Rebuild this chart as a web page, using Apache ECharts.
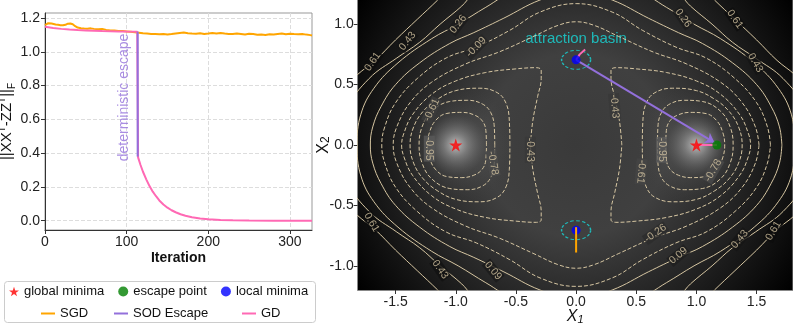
<!DOCTYPE html>
<html>
<head>
<meta charset="utf-8">
<script src="https://cdn.jsdelivr.net/npm/echarts@6/dist/echarts.min.js"></script>
<style>
  html, body { margin: 0; padding: 0; background: #fff; }
  #main { width: 793px; height: 324px; }
</style>
</head>
<body>
<div id="main"></div>
<script>
// ---- left panel: distance to ground truth per iteration ----
const sgd = [[0,1.158],[2,1.162],[4,1.170],[6,1.174],[8,1.168],[10,1.166],[13,1.162],[16,1.160],[19,1.158],[22,1.157],[25,1.160],[28,1.167],[31,1.168],[34,1.163],[37,1.152],[40,1.144],[44,1.140],[48,1.138],[52,1.137],[56,1.139],[60,1.136],[65,1.134],[70,1.135],[75,1.130],[80,1.127],[85,1.126],[90,1.124],[95,1.123],[100,1.121],[105,1.119],[110,1.116],[115,1.113],[120,1.110],[125,1.108],[130,1.106],[135,1.105],[140,1.104],[145,1.106],[150,1.103],[155,1.105],[160,1.109],[165,1.112],[170,1.114],[175,1.110],[180,1.108],[185,1.107],[190,1.110],[195,1.106],[200,1.108],[205,1.111],[210,1.109],[215,1.112],[220,1.108],[225,1.106],[230,1.105],[235,1.108],[240,1.106],[245,1.103],[250,1.107],[255,1.105],[260,1.101],[265,1.102],[270,1.100],[275,1.104],[280,1.103],[285,1.106],[290,1.108],[295,1.104],[300,1.107],[305,1.105],[310,1.104],[315,1.106],[320,1.102],[325,1.099],[327,1.097]];
const gd = [[0,1.148],[10,1.141],[20,1.136],[30,1.132],[40,1.129],[50,1.127],[60,1.125],[70,1.123],[80,1.122],[90,1.121],[100,1.120],[113,1.119],[114,0.375],[117,0.33],[120,0.29],[124,0.245],[128,0.205],[132,0.172],[136,0.145],[140,0.120],[145,0.096],[150,0.077],[155,0.062],[160,0.050],[166,0.038],[172,0.029],[180,0.020],[190,0.013],[200,0.008],[215,0.004],[230,0.002],[250,0.001],[280,0.0005],[327,0.0002]];
const sodEscape = [[113.5,1.119],[113.5,0.38]];
const leftXTicks = [0, 100, 200, 300];
const leftYTicks = [0, 0.2, 0.4, 0.6, 0.8, 1.0, 1.2];

// ---- right panel: landscape and trajectories ----
const rightXTicks = [-1.5, -1, -0.5, 0, 0.5, 1, 1.5];
const rightYTicks = [-1, -0.5, 0, 0.5, 1];
const globalMinima = [[-1, 0], [1, 0]];
const escapePoint = [[1.17, 0]];
const localMinima = [[0, 0.705], [0, -0.705]];
const sodPath = [[0, 0.705], [1.15, 0.02]];
const gdPathTop = [[0, 0.705], [0.03, 0.75], [0.075, 0.79]];
const gdPathRight = [[1.0, 0], [1.17, 0]];
const sgdPathBottom = [[0, -0.68], [0, -0.89]];

// traced contours: right-lobe upper halves (inner crossing -> outer crossing)
const lobeM095 = [[0.745,0],[0.75,0.12],[0.78,0.2],[0.85,0.25],[0.95,0.27],[1.08,0.26],[1.17,0.2],[1.22,0.1],[1.235,0]];
const lobeM078 = [[0.676,0],[0.68,0.15],[0.71,0.27],[0.78,0.34],[0.9,0.37],[1.05,0.36],[1.2,0.28],[1.28,0.15],[1.305,0]];
const lobeM061 = [[0.55,0],[0.555,0.2],[0.58,0.34],[0.65,0.43],[0.8,0.47],[1.0,0.45],[1.15,0.38],[1.27,0.28],[1.35,0.15],[1.38,0]];
const lobeM043 = [[0.38,0],[0.36,0.2],[0.32,0.4],[0.29,0.55],[0.29,0.62],[0.33,0.64],[0.5,0.63],[0.75,0.6],[1.0,0.53],[1.2,0.42],[1.36,0.25],[1.43,0.1],[1.45,0]];
// traced contours: first quadrant (x axis crossing -> y axis side)
const ringM026 = [[1.52,0],[1.49,0.15],[1.38,0.35],[1.2,0.52],[0.92,0.67],[0.64,0.77],[0.35,0.9],[0.15,0.99],[0,1.02]];
const ringM009 = [[1.615,0],[1.59,0.15],[1.5,0.35],[1.32,0.55],[1.08,0.72],[0.83,0.81],[0.55,0.95],[0.3,1.1],[0,1.17]];
const ringP009 = [[1.71,0],[1.69,0.15],[1.62,0.32],[1.5,0.5],[1.3,0.68],[1.05,0.84],[0.85,0.93],[0.6,1.05],[0.3,1.2],[0,1.28]];
const ringP026 = [[1.82,0],[1.79,0.25],[1.68,0.47],[1.48,0.68],[1.2,0.88],[0.98,1.0],[0.75,1.14],[0.5,1.28],[0,1.4]];
const ringP043 = [[1.95,0],[1.9,0.3],[1.72,0.55],[1.49,0.72],[1.3,0.85],[1.13,1.0],[0.95,1.15],[0.8,1.3],[0,1.6]];
const ringP061 = [[2.1,0],[2.0,0.4],[1.82,0.58],[1.67,0.7],[1.5,0.87],[1.32,1.04],[1.15,1.2],[1.0,1.35],[0,1.8]];

// contour labels: [x, y, text, rotation]
const contourLabels = [
  [-1.69, 0.69, '0.61', 55], [-1.40, 0.86, '0.43', 52], [-0.98, 1.0, '0.26', 52], [-0.83, 0.81, '-0.09', 45],
  [-1.2, 0.29, '-0.61', 65], [-1.22, -0.03, '-0.95', -90], [-0.69, -0.15, '-0.78', -80], [-0.38, -0.04, '-0.43', -90],
  [0.32, 0.32, '-0.43', -85], [0.71, -0.04, '-0.95', -90], [0.54, -0.22, '-0.61', -95], [1.14, -0.21, '-0.78', 60],
  [0.89, 1.05, '0.26', -55], [1.32, 1.04, '0.61', -55], [1.49, 0.68, '0.43', -60],
  [0.66, -0.73, '-0.26', 35], [0.85, -0.915, '0.09', 40], [1.36, -0.78, '0.43', 50], [1.64, -0.71, '0.61', 60],
  [-1.70, -0.64, '0.61', -60], [-1.13, -1.03, '0.43', -55], [-0.69, -1.04, '0.09', -50]
];
// local backdrop shade behind each label (hides the line under the text)
const labelShade = ['#0e0e0e', '#141414', '#1c1c1c', '#242424', '#3c3c3c', '#5a5a5a', '#4a4a4a', '#383838',
  '#383838', '#5a5a5a', '#454545', '#4a4a4a', '#1c1c1c', '#0e0e0e', '#141414',
  '#2c2c2c', '#1e1e1e', '#151515', '#0c0c0c', '#0e0e0e', '#111111', '#1a1a1a'];

function dedupe(pts) {
  return pts.filter((p, i) => i === 0 || p[0] !== pts[i - 1][0] || p[1] !== pts[i - 1][1]);
}
function lobe(half, side) {
  const full = half.concat(half.slice().reverse().map(p => [p[0], -p[1]]));
  return dedupe(full.map(p => [side * p[0], p[1]]));
}
function ring(q) {
  const q2 = q.slice().reverse().map(p => [-p[0], p[1]]);
  const q3 = q.map(p => [-p[0], -p[1]]);
  const q4 = q.slice().reverse().map(p => [p[0], -p[1]]);
  return dedupe(q.concat(q2, q3, q4));
}

const FONT = 'Liberation Sans';
const contourColor = '#d6c6a2';
const star = 'path://M50,0 L61.8,35.1 L98.1,35.1 L68.8,56.7 L79.4,90.9 L50,69.1 L20.6,90.9 L31.2,56.7 L1.9,35.1 L38.2,35.1 Z';

function contourSeries(pts, dashed) {
  return {
    type: 'line', xAxisIndex: 1, yAxisIndex: 1, data: pts, smooth: 0.4,
    showSymbol: false, symbol: 'none', silent: true, z: 3,
    lineStyle: { color: contourColor, width: 1, type: dashed ? [4, 2] : 'solid' }
  };
}

const contours = [];
[lobeM095, lobeM078, lobeM061, lobeM043].forEach(h => {
  contours.push(contourSeries(lobe(h, 1), true));
  contours.push(contourSeries(lobe(h, -1), true));
});
[ringM026, ringM009].forEach(q => contours.push(contourSeries(ring(q), true)));
[ringP009, ringP026, ringP043, ringP061].forEach(q => contours.push(contourSeries(ring(q), false)));

const legendText = { fontSize: 13, color: '#111', fontFamily: FONT };
function lineLegend(name, left) {
  return { left: left, top: 307, padding: 0, itemWidth: 14, itemHeight: 2, icon: 'rect', textStyle: legendText, data: [name] };
}

const chart = echarts.init(document.getElementById('main'));
chart.setOption({
  animation: false,
  textStyle: { fontFamily: FONT },
  grid: [
    { left: 45, top: 13, width: 267, height: 217, show: true, borderColor: '#999', borderWidth: 1, outerBoundsMode: 'none' },
    { left: 357.7, top: 0, width: 435, height: 290, show: true, borderWidth: 0, outerBoundsMode: 'none',
      backgroundColor: { type: 'radial', x: 0.5, y: 0.5, r: 0.9,
        colorStops: [{ offset: 0, color: '#3a3a3a' }, { offset: 0.35, color: '#404040' }, { offset: 0.62, color: '#262626' }, { offset: 1, color: '#000' }] } }
  ],
  xAxis: [
    { type: 'value', gridIndex: 0, min: 0, max: 327,
      axisLine: { show: true, onZero: false, lineStyle: { color: '#333' } },
      axisTick: { show: true, customValues: leftXTicks, length: 4, lineStyle: { color: '#333' } },
      axisLabel: { customValues: leftXTicks, fontSize: 14, color: '#222', margin: 5 },
      splitLine: { show: true, lineStyle: { color: '#ddd', type: 'dashed' } },
      name: 'Iteration', nameLocation: 'middle', nameGap: 21, nameMoveOverlap: false,
      nameTextStyle: { fontWeight: 'bold', fontSize: 14, color: '#111' } },
    { type: 'value', gridIndex: 1, min: -1.815, max: 1.8,
      axisLine: { show: true, onZero: false, lineStyle: { color: '#888' } },
      axisTick: { show: true, customValues: rightXTicks, length: 4, lineStyle: { color: '#333' } },
      axisLabel: { customValues: rightXTicks, fontSize: 14, color: '#222', margin: 5, formatter: v => v.toFixed(1) },
      splitLine: { show: false },
      name: '{i|X}{s|1}', nameLocation: 'middle', nameGap: 19, nameMoveOverlap: false,
      nameTextStyle: { rich: { i: { fontSize: 16, fontStyle: 'italic', color: '#111' }, s: { fontSize: 11, fontStyle: 'italic', verticalAlign: 'bottom', color: '#111' } } } }
  ],
  yAxis: [
    { type: 'value', gridIndex: 0, min: -0.055, max: 1.23,
      axisLine: { show: true, onZero: false, lineStyle: { color: '#333' } },
      axisTick: { show: true, customValues: leftYTicks, length: 4, lineStyle: { color: '#333' } },
      axisLabel: { customValues: leftYTicks, fontSize: 14, color: '#222', margin: 5, formatter: v => v.toFixed(1) },
      splitLine: { show: true, lineStyle: { color: '#ddd', type: 'dashed' } },
      name: '{n|||XX}{p|T}{n|-ZZ}{p|T}{n|||}{b|F}', nameLocation: 'middle', nameRotate: 90, nameGap: 28, nameMoveOverlap: false,
      nameTextStyle: { rich: { n: { fontSize: 15, color: '#111', lineHeight: 20 }, p: { fontSize: 10, color: '#111', verticalAlign: 'top', lineHeight: 20 }, b: { fontSize: 10, color: '#111', verticalAlign: 'bottom', lineHeight: 20 } } } },
    { type: 'value', gridIndex: 1, min: -1.2, max: 1.2,
      axisLine: { show: true, onZero: false, lineStyle: { color: '#888' } },
      axisTick: { show: true, customValues: rightYTicks, length: 4, lineStyle: { color: '#333' } },
      axisLabel: { customValues: rightYTicks, fontSize: 14, color: '#222', margin: 4, formatter: v => v.toFixed(1) },
      splitLine: { show: false },
      name: '{i|X}{s|2}', nameLocation: 'middle', nameRotate: 90, nameGap: 26, nameMoveOverlap: false,
      nameTextStyle: { rich: { i: { fontSize: 16, color: '#111' }, s: { fontSize: 12, verticalAlign: 'bottom', color: '#111' } } } }
  ],
  legend: [
    { left: 9, top: 285, padding: 0, itemGap: 14, itemWidth: 10, itemHeight: 10, textStyle: legendText,
      data: ['global minima', 'escape point', 'local minima'] },
    lineLegend('SGD', 41),
    lineLegend('SOD Escape', 114),
    lineLegend('GD', 242)
  ],
  graphic: [
    { type: 'rect', shape: { x: 4.5, y: 281.5, width: 311, height: 41, r: 3 }, style: { fill: '#fff', stroke: '#ccc', lineWidth: 1 }, z: -1 }
  ],
  series: [
    { name: 'SGD', type: 'line', xAxisIndex: 0, yAxisIndex: 0, data: sgd, showSymbol: false, symbol: 'none',
      lineStyle: { color: '#ffa500', width: 2 }, itemStyle: { color: '#ffa500' }, z: 3 },
    { name: 'GD', type: 'line', xAxisIndex: 0, yAxisIndex: 0, data: gd, showSymbol: false, symbol: 'none',
      lineStyle: { color: '#ff69b4', width: 2 }, itemStyle: { color: '#ff69b4' }, z: 4 },
    { name: 'SOD Escape', type: 'line', xAxisIndex: 0, yAxisIndex: 0, data: sodEscape, showSymbol: false, symbol: 'none',
      lineStyle: { color: '#9370db', width: 2 }, itemStyle: { color: '#9370db' }, z: 5 },
    { type: 'scatter', xAxisIndex: 0, yAxisIndex: 0, data: [[97, 0.73]], symbolSize: 0, silent: true,
      label: { show: true, position: 'inside', formatter: 'deterministic escape', rotate: 90, fontSize: 14, color: '#9370db' } },

    // lobe glows on the landscape
    { type: 'scatter', xAxisIndex: 1, yAxisIndex: 1, data: globalMinima, symbolSize: 120, silent: true, z: 1,
      itemStyle: { color: { type: 'radial', x: 0.5, y: 0.5, r: 0.5,
        colorStops: [{ offset: 0, color: 'rgba(235,235,235,0.95)' }, { offset: 0.2, color: 'rgba(190,190,190,0.6)' }, { offset: 0.5, color: 'rgba(120,120,120,0.22)' }, { offset: 1, color: 'rgba(80,80,80,0)' }] } } },
    ...contours,
    { type: 'scatter', xAxisIndex: 1, yAxisIndex: 1, symbolSize: 0, silent: true, z: 4,
      data: contourLabels.map((c, i) => ({ value: [c[0], c[1]], name: c[2], label: { rotate: c[3], backgroundColor: labelShade[i] } })),
      label: { show: true, position: 'inside', formatter: '{b}', fontSize: 10.5, color: contourColor, padding: [0, 1] } },

    { type: 'scatter', xAxisIndex: 1, yAxisIndex: 1, data: localMinima, symbol: 'circle', symbolSize: [29, 19], silent: true, z: 5,
      itemStyle: { color: 'transparent', borderColor: '#18d8d8', borderWidth: 1.2, borderType: [3, 2] } },
    { type: 'scatter', xAxisIndex: 1, yAxisIndex: 1, data: [[0, 0.875]], symbolSize: 0, silent: true,
      label: { show: true, position: 'inside', formatter: 'attraction basin', fontSize: 15, color: '#18d8d8' } },
    { type: 'lines', coordinateSystem: 'cartesian2d', xAxisIndex: 1, yAxisIndex: 1, z: 6, silent: true,
      symbol: ['none', 'arrow'], symbolSize: 9,
      data: [{ coords: sodPath }], lineStyle: { color: '#9370db', width: 2, opacity: 1 } },
    { type: 'line', xAxisIndex: 1, yAxisIndex: 1, data: gdPathTop, showSymbol: false, symbol: 'none', z: 6,
      lineStyle: { color: '#ff69b4', width: 2 } },
    { type: 'line', xAxisIndex: 1, yAxisIndex: 1, data: gdPathRight, showSymbol: false, symbol: 'none', z: 6,
      lineStyle: { color: '#ff69b4', width: 2 } },
    { type: 'line', xAxisIndex: 1, yAxisIndex: 1, data: sgdPathBottom, showSymbol: false, symbol: 'none', z: 7,
      lineStyle: { color: '#ffa500', width: 2 } },
    { name: 'global minima', type: 'scatter', xAxisIndex: 1, yAxisIndex: 1, data: globalMinima, symbol: star, symbolSize: 13, z: 8,
      itemStyle: { color: '#ff0000' } },
    { name: 'escape point', type: 'scatter', xAxisIndex: 1, yAxisIndex: 1, data: escapePoint, symbol: 'circle', symbolSize: 9, z: 8,
      itemStyle: { color: '#008000' } },
    { name: 'local minima', type: 'scatter', xAxisIndex: 1, yAxisIndex: 1, data: localMinima, symbol: 'circle', symbolSize: 9, z: 6,
      itemStyle: { color: '#0000ff' } }
  ]
});
</script>
</body>
</html>
